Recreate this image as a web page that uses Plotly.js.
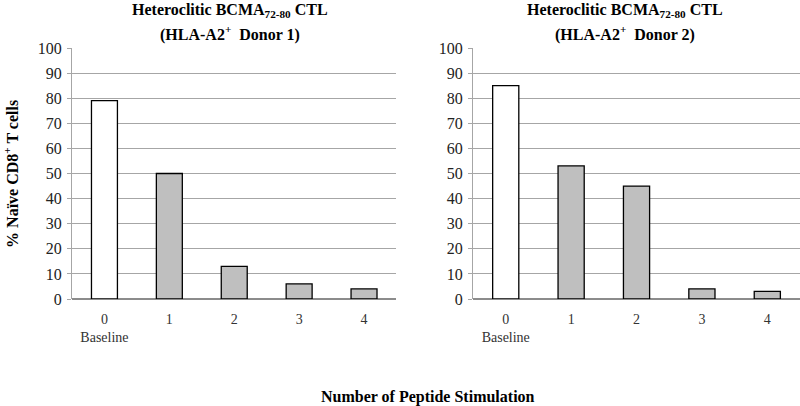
<!DOCTYPE html>
<html><head><meta charset="utf-8">
<script src="https://cdn.plot.ly/plotly-3.0.1.min.js"></script>
<style>body{margin:0;background:#fff}#chart{width:800px;height:406px}</style>
</head><body><div id="chart"></div>
<script>
const categories = ["0", "1", "2", "3", "4"];
const tickLabels = ["0<br>Baseline", "1", "2", "3", "4"];
const donor1 = [79, 50, 13, 6, 4];
const donor2 = [85, 53, 45, 4, 3];
const titleLine1 = "Heteroclitic BCMA<sub>72-80</sub> CTL";
const titleLine2 = ["(HLA-A2<sup>+</sup>  Donor 1)", "(HLA-A2<sup>+</sup>  Donor 2)"];
const yTitle = "% Naïve CD8<sup>+</sup> T cells";
const xTitle = "Number of Peptide Stimulation";

const fills = categories.map((c, i) => i === 0 ? "#ffffff" : "#bfbfbf");
const font = "Liberation Serif";

const bar = (y, xa, ya) => ({
  type: "bar", x: categories, y: y, xaxis: xa, yaxis: ya,
  marker: {color: fills, line: {color: "#000", width: 1.3}},
  hoverinfo: "skip", showlegend: false
});

const xax = (dom) => ({
  domain: dom, type: "category", tickmode: "array", tickvals: categories, ticktext: tickLabels,
  showgrid: false, showline: false, zeroline: false, ticks: "", ticklabelstandoff: 10,
  tickfont: {family: font, size: 14, color: "#333"}, fixedrange: true
});
const yax = (anchor) => ({
  anchor: anchor, range: [0, 100], dtick: 10, showgrid: true, gridcolor: "#a6a6a6", gridwidth: 1,
  showline: true, linecolor: "#a6a6a6", linewidth: 1, zeroline: true, zerolinecolor: "#8c8c8c", zerolinewidth: 1.2,
  ticks: "outside", ticklen: 4, tickcolor: "#a6a6a6", ticklabelstandoff: 2,
  tickfont: {family: font, size: 16, color: "#222"}, fixedrange: true
});

const tfont = {family: font, size: 16, color: "#000"};
const titleAnn = (text, x, shift) => ({
  text: "<b>" + text + "</b>", xref: "paper", yref: "paper", x: x, y: 1, xanchor: "center",
  yanchor: "middle", yshift: shift, showarrow: false, font: tfont
});

const layout = {
  width: 800, height: 406, margin: {l: 0, r: 0, t: 48, b: 107},
  paper_bgcolor: "#fff", plot_bgcolor: "#fff", bargap: 0.6,
  font: {family: font},
  xaxis: xax([0.09, 0.4956]), yaxis: yax("x"),
  xaxis2: xax([0.5913, 1.0]), yaxis2: yax("x2"),
  annotations: [
    titleAnn(titleLine1, 0.2875, 38),
    titleAnn(titleLine2[0], 0.2875, 15),
    titleAnn(titleLine1, 0.78125, 38),
    titleAnn(titleLine2[1], 0.78125, 15),
    {text: "<b>" + yTitle + "</b>", xref: "paper", yref: "paper", x: 0.013, y: 0.5, textangle: -90,
     xanchor: "center", showarrow: false, font: tfont},
    {text: "<b>" + xTitle + "</b>", xref: "paper", yref: "paper", x: 0.535, y: -0.39, xanchor: "center", yanchor: "middle",
     showarrow: false, font: tfont}
  ]
};

Plotly.newPlot("chart", [bar(donor1, "x", "y"), bar(donor2, "x2", "y2")], layout, {staticPlot: true});
</script></body></html>
